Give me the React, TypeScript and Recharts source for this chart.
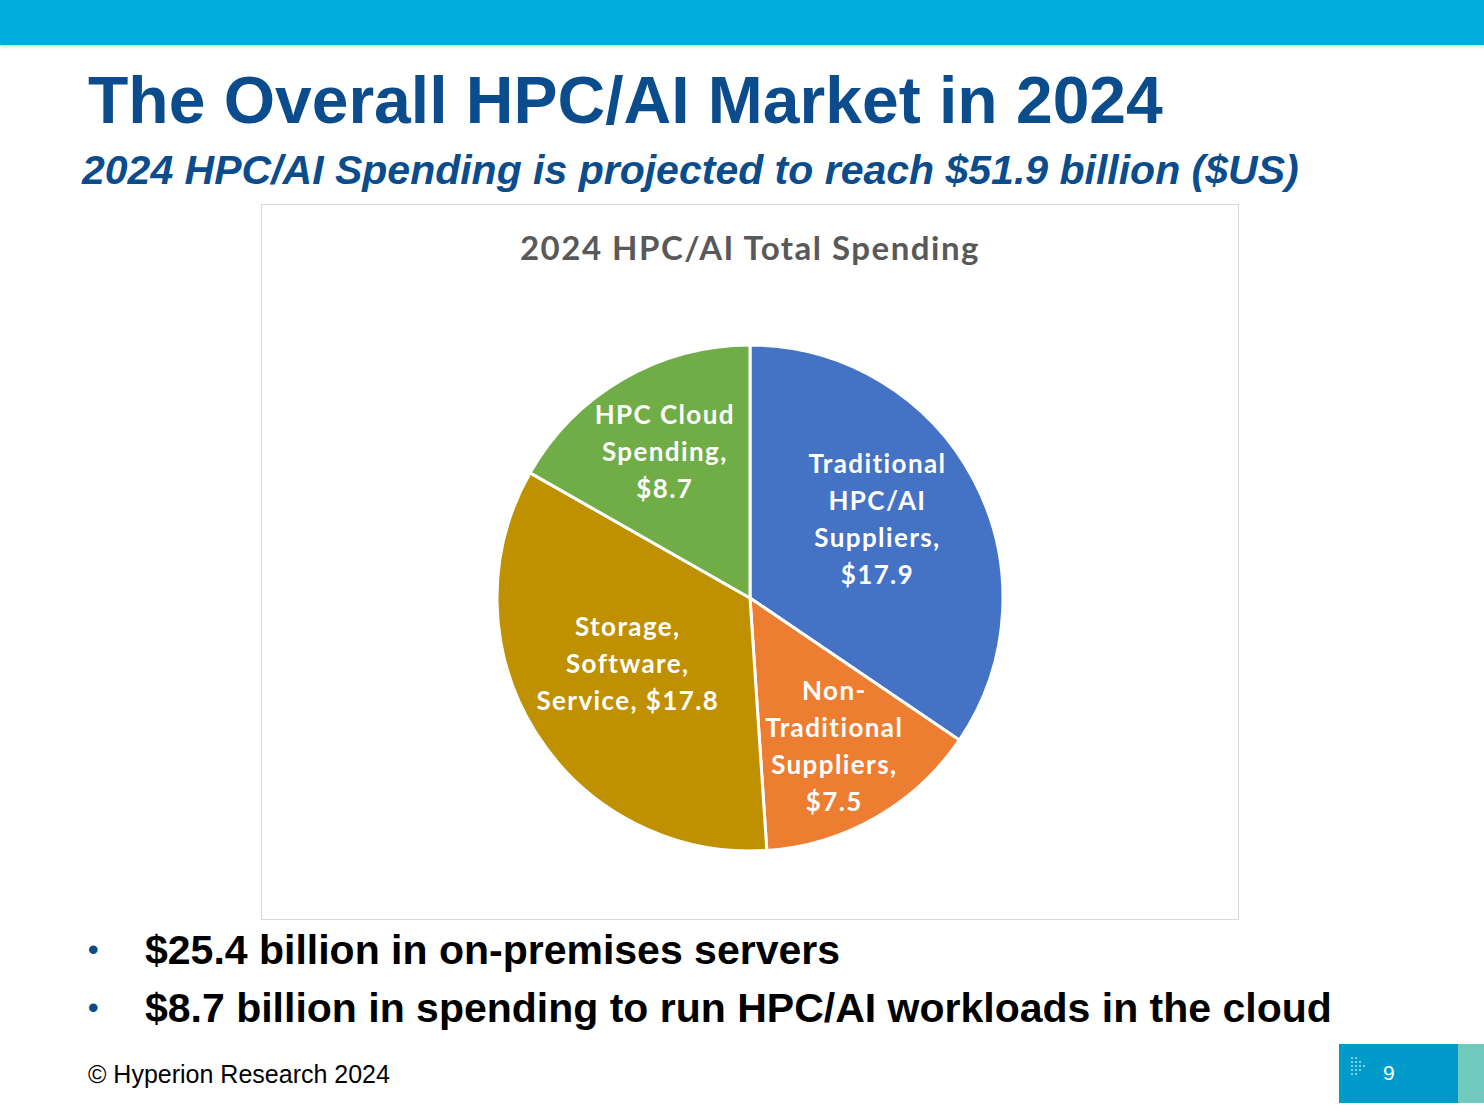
import React from "react";
import { PieChart, Pie, Cell } from "recharts";

const categories = [
  "Traditional HPC/AI Suppliers",
  "Non-Traditional Suppliers",
  "Storage, Software, Service",
  "HPC Cloud Spending",
];
const spending = [17.9, 7.5, 17.8, 8.7];
const labelLines = [
  ["Traditional", "HPC/AI", "Suppliers,", "$17.9"],
  ["Non-", "Traditional", "Suppliers,", "$7.5"],
  ["Storage,", "Software,", "Service, $17.8"],
  ["HPC Cloud", "Spending,", "$8.7"],
];
const sliceColors = ["#4472C4", "#ED7D31", "#BF9000", "#70AD47"];
const bullets = [
  "$25.4 billion in on-premises servers",
  "$8.7 billion in spending to run HPC/AI workloads in the cloud",
];

const data = categories.map((name, i) => ({ name, value: spending[i], lines: labelLines[i] }));

const RAD = Math.PI / 180;

const renderLabel = (props: any) => {
  const { cx, cy, midAngle, outerRadius, percent, index } = props;
  const big = percent > 0.25;
  const f = big ? 0.57 : 0.67;
  const r = outerRadius * f;
  const x = cx + r * Math.cos(-midAngle * RAD);
  const y = cy + r * Math.sin(-midAngle * RAD) - (big ? 12 : 0);
  const lines: string[] = data[index].lines;
  const lh = 37;
  const y0 = y - ((lines.length - 1) * lh) / 2;
  return (
    <text
      x={x}
      y={y0}
      fill="#FFFFFF"
      textAnchor="middle"
      dominantBaseline="central"
      style={{
        fontFamily: "Lato, 'Open Sans', sans-serif",
        fontWeight: 700,
        fontSize: 26,
        letterSpacing: 1.4,
      }}
    >
      {lines.map((l, i) => (
        <tspan key={i} x={x} y={y0 + i * lh} dominantBaseline="central">
          {l}
        </tspan>
      ))}
    </text>
  );
};

export default function App() {
  const blue = "#0B4C8C";
  return (
    <div
      style={{
        position: "absolute",
        left: 0,
        top: 0,
        width: 1484,
        height: 1113,
        background: "#FFFFFF",
        overflow: "hidden",
        fontFamily: "'Liberation Sans', Arial, sans-serif",
      }}
    >
      <div
        style={{
          position: "absolute",
          left: 0,
          top: 0,
          width: 1484,
          height: 45,
          background: "#00AEDD",
          boxShadow: "0 2px 3px rgba(0,0,0,0.15)",
        }}
      />
      <div
        style={{
          position: "absolute",
          left: 88,
          top: 62,
          fontSize: 66,
          fontWeight: 700,
          color: blue,
          lineHeight: "76px",
          whiteSpace: "nowrap",
        }}
      >
        The Overall HPC/AI Market in 2024
      </div>
      <div
        style={{
          position: "absolute",
          left: 82,
          top: 147,
          fontSize: 41,
          fontWeight: 700,
          fontStyle: "italic",
          color: blue,
          lineHeight: "46px",
          whiteSpace: "nowrap",
        }}
      >
        2024 HPC/AI Spending is projected to reach $51.9 billion ($US)
      </div>

      <div
        style={{
          position: "absolute",
          left: 261,
          top: 204,
          width: 976,
          height: 714,
          border: "1.5px solid #D9D9D9",
        }}
      >
        <div
          style={{
            position: "absolute",
            left: 0,
            top: 22,
            width: 976,
            textAlign: "center",
            fontFamily: "Lato, 'Open Sans', sans-serif",
            fontWeight: 700,
            fontSize: 33,
            letterSpacing: 1.5,
            color: "#595959",
            lineHeight: "40px",
          }}
        >
          2024 HPC/AI Total Spending
        </div>
        <div style={{ position: "absolute", left: 0, top: 0 }}>
          <PieChart width={976} height={714} margin={{ top: 0, right: 0, bottom: 0, left: 0 }}>
            <Pie
              data={data}
              dataKey="value"
              nameKey="name"
              cx={488}
              cy={393}
              outerRadius={253}
              startAngle={90}
              endAngle={-270}
              stroke="#FFFFFF"
              strokeWidth={3}
              label={renderLabel}
              labelLine={false}
              isAnimationActive={false}
            >
              {data.map((d, i) => (
                <Cell key={d.name} fill={sliceColors[i]} />
              ))}
            </Pie>
          </PieChart>
        </div>
      </div>

      {bullets.map((b, i) => (
        <div
          key={i}
          style={{
            position: "absolute",
            left: 0,
            top: 925 + i * 58,
            height: 50,
            width: 1484,
            lineHeight: "50px",
            whiteSpace: "nowrap",
          }}
        >
          <span
            style={{ position: "absolute", left: 88, fontSize: 30, color: blue, fontWeight: 700 }}
          >
            •
          </span>
          <span
            style={{ position: "absolute", left: 145, fontSize: 41, fontWeight: 700, color: "#000000" }}
          >
            {b}
          </span>
        </div>
      ))}

      <div
        style={{
          position: "absolute",
          left: 88,
          top: 1059,
          fontSize: 25,
          color: "#000000",
          lineHeight: "30px",
          whiteSpace: "nowrap",
        }}
      >
        © Hyperion Research 2024
      </div>

      <div
        style={{
          position: "absolute",
          left: 1339,
          top: 1044,
          width: 119,
          height: 59,
          background: "#009BCB",
        }}
      >
        <svg width={30} height={40} style={{ position: "absolute", left: 10, top: 10 }}>
          {[
            [0, 0], [1, 0],
            [0, 1], [1, 1], [2, 1],
            [0, 2], [1, 2], [2, 2], [3, 2],
            [0, 3], [1, 3], [2, 3],
            [0, 4], [1, 4],
          ].map(([c, r], k) => (
            <rect key={k} x={2 + c * 4} y={3 + r * 4} width={2} height={2} fill="#7FD0EA" />
          ))}
        </svg>
        <div
          style={{
            position: "absolute",
            left: 44,
            top: 16,
            fontSize: 21,
            color: "#FFFFFF",
            lineHeight: "26px",
          }}
        >
          9
        </div>
      </div>
      <div
        style={{
          position: "absolute",
          left: 1458,
          top: 1044,
          width: 26,
          height: 59,
          background: "#6FC9BD",
        }}
      />
    </div>
  );
}
